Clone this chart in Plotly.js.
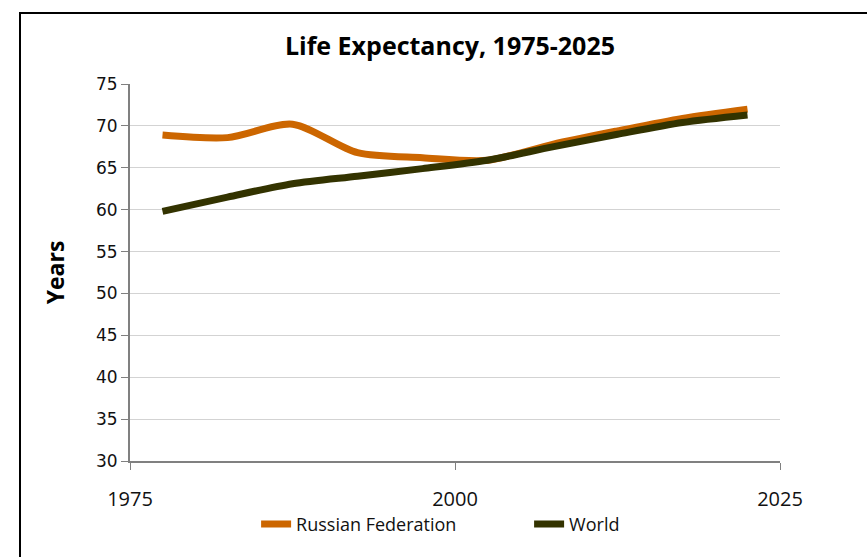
<!DOCTYPE html>
<html>
<head>
<meta charset="utf-8">
<script src="https://cdn.plot.ly/plotly-3.0.1.min.js"></script>
<style>
html, body { margin: 0; padding: 0; background: #fff; }
#wrap { position: relative; width: 867px; height: 557px; overflow: hidden; }
#chart { position: absolute; left: 0; top: 0; width: 867px; height: 557px; }
#frame { position: absolute; left: 19px; top: 12px; width: 900px; height: 600px; border-left: 2px solid #000; border-top: 2px solid #000; pointer-events: none; }
</style>
</head>
<body>
<div id="wrap"><div id="chart"></div><div id="frame"></div></div>
<script>
const years = [1977.5, 1982.5, 1987.5, 1992.5, 1997.5, 2002.5, 2007.5, 2012.5, 2017.5, 2022.5];
const russia = [68.9, 68.6, 70.2, 66.8, 66.2, 65.9, 67.8, 69.4, 70.9, 72.0];
const world = [59.8, 61.5, 63.1, 64.0, 64.9, 65.9, 67.5, 69.0, 70.4, 71.3];
const xTicks = [1975, 2000, 2025];
const yTicks = [30, 35, 40, 45, 50, 55, 60, 65, 70, 75];

const traces = [
  { x: years, y: russia, name: 'Russian Federation', type: 'scatter', mode: 'lines',
    line: { color: '#CC6600', width: 7, shape: 'spline', smoothing: 0.8 } },
  { x: years, y: world, name: 'World', type: 'scatter', mode: 'lines',
    line: { color: '#333300', width: 7, shape: 'spline', smoothing: 0.8 } }
];

const layout = {
  width: 867, height: 557,
  margin: { l: 130, r: 87, t: 84, b: 96 },
  paper_bgcolor: '#fff', plot_bgcolor: '#fff',
  font: { family: '"Open Sans", sans-serif', color: '#111' },
  title: { text: 'Life Expectancy, 1975-2025', x: 0.519, xanchor: 'center', y: 0.917, yanchor: 'middle',
    font: { family: '"Open Sans", sans-serif', size: 25, weight: 700, color: '#000' } },
  showlegend: true,
  legend: { orientation: 'h', x: 0.194, xanchor: 'left', y: -0.168, yanchor: 'middle',
    entrywidth: 228, entrywidthmode: 'pixels',
    font: { family: '"Open Sans", sans-serif', size: 18, color: '#111' } },
  xaxis: { range: [1975, 2025], tickvals: xTicks, ticktext: xTicks.map(String),
    showgrid: false, zeroline: false, showline: true, linecolor: '#808080', linewidth: 2,
    ticks: 'outside', ticklen: 7, tickcolor: '#808080', tickwidth: 1,
    ticklabelstandoff: 12,
    tickfont: { family: '"Open Sans", sans-serif', size: 20, color: '#111' }, fixedrange: true },
  yaxis: { range: [30, 75], tickvals: yTicks, ticktext: yTicks.map(String),
    showgrid: true, gridcolor: '#d3d3d3', gridwidth: 1, zeroline: false,
    showline: true, linecolor: '#808080', linewidth: 2,
    ticks: 'outside', ticklen: 7, tickcolor: '#808080', tickwidth: 1,
    tickfont: { family: '"DejaVu Sans", sans-serif', size: 17, color: '#111' },
    title: { text: 'Years', standoff: 25, font: { family: '"Open Sans", sans-serif', size: 23, weight: 700, color: '#000' } },
    fixedrange: true }
};

Plotly.newPlot('chart', traces, layout, { displayModeBar: false, staticPlot: true });
</script>
</body>
</html>
